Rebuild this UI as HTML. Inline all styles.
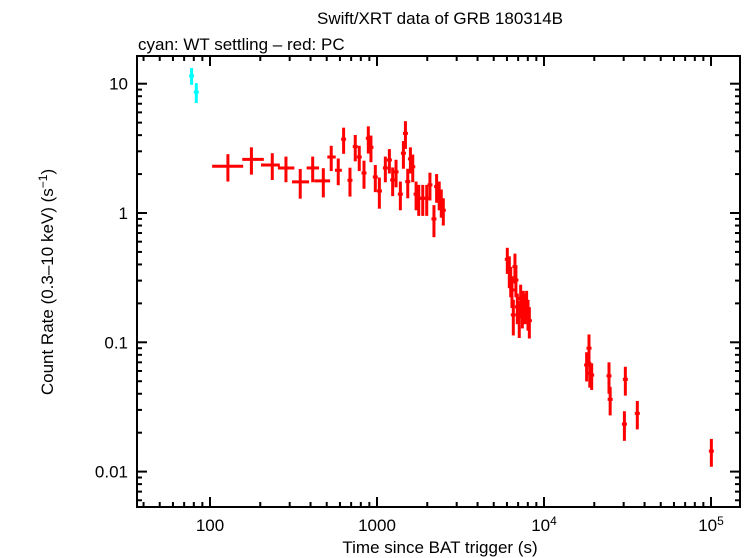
<!DOCTYPE html>
<html><head><meta charset="utf-8"><style>
html,body{margin:0;padding:0;background:#fff;}
svg{display:block;font-family:"Liberation Sans",sans-serif;}
</style></head><body>
<svg id="chart" width="746" height="558" viewBox="0 0 746 558">
<text x="440" y="24" font-size="17" text-anchor="middle">Swift/XRT data of GRB 180314B</text>
<text x="138" y="50" font-size="17">cyan: WT settling – red: PC</text>
<g id="axes"></g>
<g id="marks"></g>
<text x="440" y="553" font-size="17" text-anchor="middle">Time since BAT trigger (s)</text>
<text transform="translate(53,282) rotate(-90)" font-size="17" text-anchor="middle">Count Rate (0.3–10 keV) (s<tspan dy="-6" font-size="12">−1</tspan><tspan dy="6">)</tspan></text>
</svg>
<script>
// cyan WT data: time, tmin, tmax, rate, rate error
const wtTime=[77.6,82.8];
const wtTmin=[76.5,81.5];
const wtTmax=[78.8,84.2];
const wtRate=[11.5,8.6];
const wtErr=[1.7,1.5];
// red PC data
const pcTime=[128,177,236,285,347,412,477,532,586,631,689,741,783,836,887,920,977,1033,1122,1186,1241,1300,1380,1439,1480,1528,1585,1637,1714,1778,1879,1985,2075,2193,2275,2358,2426,2495,
6030,6200,6320,6430,6550,6700,6790,6920,7110,7250,7420,7520,7690,7870,8020,8170,
18000,18600,18800,19300,24500,24900,30300,30700,36200,100500];
const pcTmin=[103,156,202,255,310,379,421,504,560,616,668,725,765,815,870,905,950,1000,1090,1160,1215,1270,1350,1415,1460,1505,1560,1610,1690,1755,1850,1955,2045,2150,2245,2330,2400,2465,
5950,6130,6250,6360,6480,6630,6720,6850,7040,7180,7350,7450,7620,7800,7950,8090,
17800,18400,18600,19000,24200,24600,30000,30300,35800,99000];
const pcTmax=[158,210,262,320,392,450,524,566,616,645,708,760,805,860,905,940,1010,1070,1155,1215,1270,1335,1410,1465,1500,1550,1610,1665,1740,1800,1910,2015,2110,2240,2305,2390,2455,2530,
6110,6270,6390,6500,6620,6770,6860,6990,7180,7320,7490,7600,7760,7950,8100,8260,
18300,18800,19100,19700,24800,25200,30600,31200,36700,102000];
const pcRate=[2.30,2.60,2.35,2.23,1.74,2.23,1.77,2.71,2.14,3.72,1.79,3.26,2.71,2.04,3.78,3.22,1.90,1.48,2.23,2.57,1.80,2.08,1.40,2.90,4.13,1.75,2.62,2.28,1.40,1.30,1.30,1.30,1.65,0.90,1.60,1.40,1.22,1.05,
0.438,0.362,0.303,0.254,0.163,0.385,0.303,0.188,0.158,0.219,0.178,0.200,0.188,0.200,0.168,0.147,
0.0668,0.090,0.0576,0.0558,0.055,0.0362,0.0233,0.0517,0.0282,0.0144];
const pcErr=[0.55,0.62,0.55,0.5,0.45,0.5,0.45,0.6,0.5,0.85,0.45,0.75,0.6,0.5,0.9,0.75,0.45,0.4,0.5,0.55,0.45,0.5,0.35,0.7,1.0,0.45,0.6,0.55,0.35,0.35,0.35,0.35,0.4,0.25,0.4,0.35,0.3,0.25,
0.1,0.1,0.08,0.07,0.05,0.1,0.08,0.05,0.05,0.06,0.05,0.05,0.05,0.05,0.045,0.04,
0.017,0.025,0.013,0.013,0.015,0.009,0.006,0.013,0.007,0.0035];
const yTickVals=[10,1,0.1,0.01];
const yTickLabels=["10","1","0.1","0.01"];
const xTickVals=[100,1000,10000,100000];
const xTickLabels=["100","1000","10<tspan dy='-6' font-size='12'>4</tspan>","10<tspan dy='-6' font-size='12'>5</tspan>"];

const L=137,R=740,T=56,B=507;
function xs(t){return 210+167*(Math.log10(t)-2);}
function ys(c){return 213-129.3*Math.log10(c);}
const NS="http://www.w3.org/2000/svg";
const axes=document.getElementById('axes'),marks=document.getElementById('marks');
function mk(tag,attrs,parent){const e=document.createElementNS(NS,tag);for(const k in attrs)e.setAttribute(k,attrs[k]);parent.appendChild(e);return e;}

const frame=mk('rect',{x:L,y:T,width:R-L,height:B-T,fill:'none',stroke:'#000','stroke-width':2},axes);



for(let d=1;d<=5;d++){for(let m=1;m<10;m++){const v=m*Math.pow(10,d);const x=xs(v);if(x<L||x>R)continue;
 const len=m===1?10:5;
 const t1=mk('line',{x1:x,x2:x,y1:B,y2:B-len,stroke:'#000','stroke-width':2},axes);
 
 
 const t2=mk('line',{x1:x,x2:x,y1:T,y2:T+len,stroke:'#000','stroke-width':2},axes);
 
 
}}
for(let d=-3;d<=1;d++){for(let m=1;m<10;m++){const v=m*Math.pow(10,d);const y=ys(v);if(y<T||y>B)continue;
 const len=m===1?10:5;
 const t1=mk('line',{x1:L,x2:L+len,y1:y,y2:y,stroke:'#000','stroke-width':2},axes);
 
 
 const t2=mk('line',{x1:R,x2:R-len,y1:y,y2:y,stroke:'#000','stroke-width':2},axes);
 
 
}}
yTickVals.forEach((v,i)=>{const t=mk('text',{x:128,y:ys(v)+6,'font-size':17,'text-anchor':'end'},axes);t.textContent=yTickLabels[i];
 
 });
xTickVals.forEach((v,i)=>{const t=mk('text',{x:xs(v),y:531,'font-size':17,'text-anchor':'middle'},axes);t.innerHTML=xTickLabels[i];
 
 });

function drawSeries(time,tmin,tmax,rate,err,color,name){
 for(let i=0;i<time.length;i++){
  const g=mk('g',{stroke:color,'stroke-width':3},marks);
  
  
  const y=ys(rate[i]);
  const xc=xs(time[i]);
  const x1=Math.min(xs(tmin[i]),xc-2.5), x2=Math.max(xs(tmax[i]),xc+2.5);
  mk('line',{x1:x1,x2:x2,y1:y,y2:y},g);
  const lo=Math.max(rate[i]-err[i],1e-4);
  mk('line',{x1:xc,x2:xc,y1:ys(rate[i]+err[i]),y2:ys(lo)},g);
 }
}
drawSeries(pcTime,pcTmin,pcTmax,pcRate,pcErr,'#ff0000','pc-data-point');
drawSeries(wtTime,wtTmin,wtTmax,wtRate,wtErr,'#00ffff','wt-data-point');
</script>
</body></html>
